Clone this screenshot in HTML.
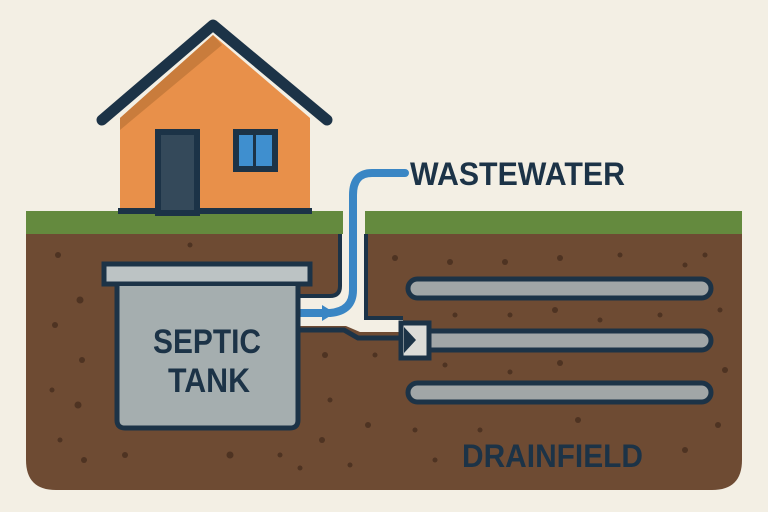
<!DOCTYPE html>
<html><head><style>
body{margin:0;background:#f3efe4;}
svg{display:block}
text{font-family:"Liberation Sans",sans-serif;font-weight:bold;fill:#1c3347}
</style></head><body>
<svg width="768" height="512" viewBox="0 0 768 512">
<rect width="768" height="512" fill="#f3efe4"/>
<!-- ground -->
<path d="M26 211 H742 V460 Q742 490 712 490 H56 Q26 490 26 460 Z" fill="#6e4b33"/>
<rect x="26" y="211" width="716" height="23" fill="#648a3e"/>
<g fill="#4e3322">
<circle cx="58" cy="255" r="3"/><circle cx="80" cy="300" r="3.5"/><circle cx="55" cy="325" r="3"/><circle cx="82" cy="360" r="3"/><circle cx="52" cy="390" r="2.5"/><circle cx="78" cy="405" r="3.5"/><circle cx="60" cy="440" r="2.5"/><circle cx="84" cy="460" r="3"/><circle cx="125" cy="455" r="3"/><circle cx="190" cy="245" r="2.5"/><circle cx="230" cy="455" r="3.5"/><circle cx="280" cy="455" r="2.5"/><circle cx="322" cy="440" r="3"/><circle cx="325" cy="355" r="3"/><circle cx="330" cy="400" r="2.5"/><circle cx="368" cy="425" r="3"/><circle cx="375" cy="355" r="2.5"/><circle cx="395" cy="258" r="3"/><circle cx="450" cy="262" r="3"/><circle cx="505" cy="262" r="3"/><circle cx="560" cy="258" r="3"/><circle cx="620" cy="255" r="2.5"/><circle cx="685" cy="265" r="2.5"/><circle cx="705" cy="255" r="2.5"/><circle cx="455" cy="315" r="2.5"/><circle cx="510" cy="315" r="2.5"/><circle cx="555" cy="310" r="3"/><circle cx="600" cy="320" r="2.5"/><circle cx="660" cy="315" r="2.5"/><circle cx="720" cy="310" r="2.5"/><circle cx="445" cy="365" r="2.5"/><circle cx="510" cy="372" r="2.5"/><circle cx="560" cy="363" r="3"/><circle cx="725" cy="370" r="3"/><circle cx="415" cy="430" r="2.5"/><circle cx="480" cy="430" r="2.5"/><circle cx="578" cy="420" r="3"/><circle cx="718" cy="425" r="3"/><circle cx="435" cy="460" r="2.5"/><circle cx="685" cy="450" r="3"/><circle cx="350" cy="465" r="2.5"/><circle cx="300" cy="468" r="2.5"/>
</g>
<!-- channel white area -->
<path d="M343 205 H365 V318 H403 V332 H360 L346 326 H300 V296 H330 Q340 296 340 286 V234 H343 Z" fill="#f3efe4"/>
<rect x="343" y="205" width="22" height="32" fill="#f3efe4"/>
<!-- channel outlines -->
<path d="M340 234 V286 Q340 296 330 296 H300" fill="none" stroke="#1c3347" stroke-width="4"/>
<path d="M366 234 V318 H403" fill="none" stroke="#1c3347" stroke-width="4"/>
<path d="M300 330 H344 L358 338 H403" fill="none" stroke="#1c3347" stroke-width="5"/>
<!-- house -->
<polygon points="120,118 213,35 310,118 310,213 120,213" fill="#e8904a"/>
<polygon points="120,118 213,35 222,45 120,130" fill="#c97c3c"/>
<polyline points="102,120 213,25 327,120" fill="none" stroke="#1c3347" stroke-width="11" stroke-linecap="round" stroke-linejoin="round"/>
<rect x="118" y="208" width="194" height="6" fill="#1c3347"/>
<rect x="158" y="132" width="39" height="81" fill="#34495a" stroke="#1c3347" stroke-width="6"/>
<rect x="236" y="132" width="39" height="37" fill="#3f8fcf" stroke="#1c3347" stroke-width="6"/>
<rect x="253" y="133" width="3" height="35" fill="#1c3347"/>
<!-- blue pipe -->
<path d="M405 173 H372 Q353 173 353 195 V290 Q353 311 330 313 H300" fill="none" stroke="#3a86c4" stroke-width="8" stroke-linecap="round"/>
<polygon points="322,305 335,313 322,321" fill="#3a86c4"/>
<!-- tank -->
<rect x="104" y="264" width="206" height="20" fill="#bcc3c4" stroke="#1c3347" stroke-width="5"/>
<path d="M117 286 V420 Q117 428 125 428 H290 Q298 428 298 420 V286" fill="#a5aeaf" stroke="#1c3347" stroke-width="5"/>
<text x="153" y="353" font-size="34" textLength="108" lengthAdjust="spacingAndGlyphs">SEPTIC</text>
<text x="168" y="392" font-size="34" textLength="82" lengthAdjust="spacingAndGlyphs">TANK</text>
<!-- drain pipes -->
<rect x="408" y="279" width="303" height="19" rx="9.5" fill="#a1a6a7" stroke="#1c3347" stroke-width="5"/>
<rect x="408" y="331" width="303" height="19" rx="9.5" fill="#a1a6a7" stroke="#1c3347" stroke-width="5"/>
<rect x="408" y="383" width="303" height="19" rx="9.5" fill="#a1a6a7" stroke="#1c3347" stroke-width="5"/>
<rect x="401" y="323" width="28" height="35" fill="#dcdcd8" stroke="#1c3347" stroke-width="5"/>
<polygon points="404,327 416,340 404,353" fill="#1c3347"/>
<text x="410" y="185" font-size="32" textLength="215" lengthAdjust="spacingAndGlyphs">WASTEWATER</text>
<text x="462" y="467" font-size="32" textLength="181" lengthAdjust="spacingAndGlyphs">DRAINFIELD</text>
</svg>
</body></html>
